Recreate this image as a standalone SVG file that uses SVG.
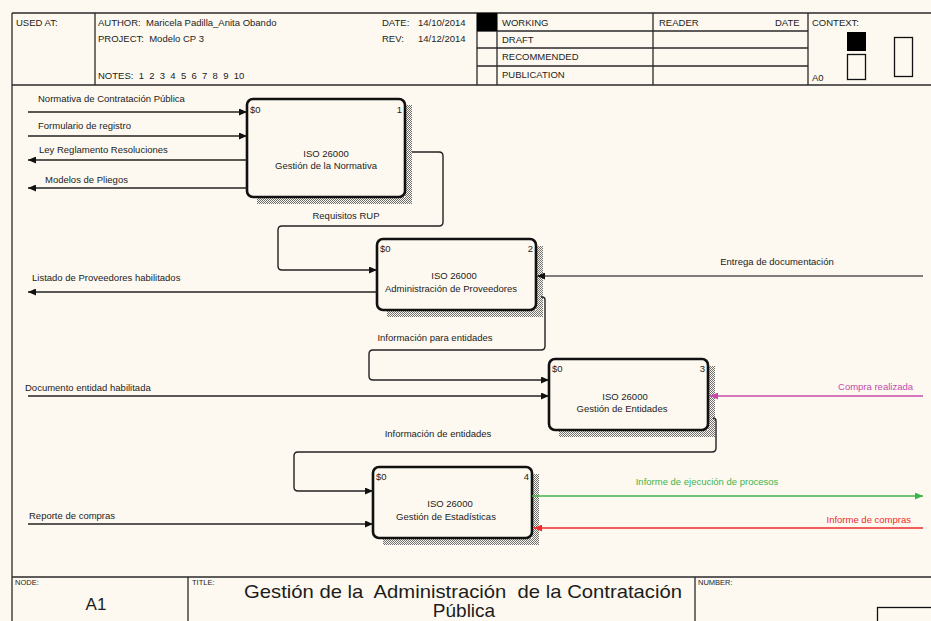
<svg xmlns="http://www.w3.org/2000/svg" width="931" height="621" viewBox="0 0 931 621">
  <defs>
    <style>
      .t { font-family: "Liberation Sans", Arial, sans-serif; font-size: 9.5px; fill: #1c1c1c; white-space: pre; }
      .c { text-anchor: middle; }
      .e { text-anchor: end; }
      .frame { fill: none; stroke: #2a2a2a; stroke-width: 1.3; }
      .box { fill: #fdf9f0; stroke: #111; stroke-width: 2.6; }
      .conn { fill: none; stroke: #222; stroke-width: 1.4; }
      .small { font-size: 7.5px; }
      .big { font-size: 19px; }
    </style>
    <pattern id="hatch" patternUnits="userSpaceOnUse" width="2" height="2">
      <rect x="0" y="0" width="1" height="1" fill="#6e6e6e"/>
      <rect x="1" y="1" width="1" height="1" fill="#6e6e6e"/>
    </pattern>
    <marker id="ah" viewBox="0 0 8 7" refX="8" refY="3.5" markerWidth="8" markerHeight="7" markerUnits="userSpaceOnUse" orient="auto">
      <path d="M0,0 L8,3.5 L0,7 z" fill="#111"/>
    </marker>
    <marker id="ah-g" viewBox="0 0 8 7" refX="8" refY="3.5" markerWidth="8" markerHeight="7" markerUnits="userSpaceOnUse" orient="auto">
      <path d="M0,0 L8,3.5 L0,7 z" fill="#3fb34a"/>
    </marker>
    <marker id="ah-r" viewBox="0 0 8 7" refX="8" refY="3.5" markerWidth="8" markerHeight="7" markerUnits="userSpaceOnUse" orient="auto">
      <path d="M0,0 L8,3.5 L0,7 z" fill="#ee2a2a"/>
    </marker>
    <marker id="ah-m" viewBox="0 0 8 7" refX="8" refY="3.5" markerWidth="8" markerHeight="7" markerUnits="userSpaceOnUse" orient="auto">
      <path d="M0,0 L8,3.5 L0,7 z" fill="#c44aae"/>
    </marker>
  </defs>

  <rect x="0" y="0" width="931" height="621" fill="#fdf9f0"/>

  <!-- Sheet frame and header block -->
  <g id="header">
    <path class="frame" d="M12,13 H931 M12,13 V621 M12,85 H931"/>
    <path class="frame" d="M95,13 V85 M477,13 V85 M497,13 V85 M653,13 V85 M808,13 V85"/>
    <path class="frame" d="M477,31 H808 M477,48 H808 M477,66 H808"/>
    <rect x="477" y="13" width="20" height="18" fill="#000"/>
    <text class="t" x="16" y="26">USED AT:</text>
    <text class="t" x="98" y="26">AUTHOR:  Maricela Padilla_Anita Obando</text>
    <text class="t" x="98" y="42">PROJECT:  Modelo CP 3</text>
    <text class="t" x="98" y="79">NOTES:  1  2  3  4  5  6  7  8  9  10</text>
    <text class="t" x="382" y="26">DATE:</text>
    <text class="t" x="418" y="26">14/10/2014</text>
    <text class="t" x="382" y="42">REV:</text>
    <text class="t" x="418" y="42">14/12/2014</text>
    <text class="t" x="502" y="26">WORKING</text>
    <text class="t" x="502" y="43">DRAFT</text>
    <text class="t" x="502" y="60">RECOMMENDED</text>
    <text class="t" x="502" y="78">PUBLICATION</text>
    <text class="t" x="659" y="26">READER</text>
    <text class="t" x="775" y="26">DATE</text>
    <text class="t" x="812" y="26">CONTEXT:</text>
    <text class="t" x="812" y="81">A0</text>
    <rect x="847" y="32" width="19" height="19" fill="#000"/>
    <rect x="847.5" y="54.5" width="18" height="25" fill="none" stroke="#111" stroke-width="1.3"/>
    <rect x="894.5" y="37.5" width="18" height="39" fill="none" stroke="#111" stroke-width="1.3"/>
  </g>

  <!-- Activity boxes -->
  <g id="node-1">
    <path d="M405,105 h7 v99 h-155 v-7 h148 z" fill="url(#hatch)"/>
    <rect class="box" x="247" y="99" width="158" height="98" rx="6"/>
    <text class="t" x="250" y="113">$0</text>
    <text class="t e" x="402" y="113">1</text>
    <text class="t c" x="326" y="157">ISO 26000</text>
    <text class="t c" x="326" y="169">Gestión de la Normativa</text>
  </g>

  <g id="node-2">
    <path d="M536,246 h7 v71 h-156 v-7 h149 z" fill="url(#hatch)"/>
    <rect class="box" x="377" y="239" width="159" height="71" rx="6"/>
    <text class="t" x="380" y="252">$0</text>
    <text class="t e" x="533" y="252">2</text>
    <text class="t c" x="454" y="279">ISO 26000</text>
    <text class="t c" x="451" y="292">Administración de Proveedores</text>
  </g>

  <g id="node-3">
    <path d="M708,366 h7 v71 h-156 v-7 h149 z" fill="url(#hatch)"/>
    <rect class="box" x="549" y="359" width="159" height="71" rx="6"/>
    <text class="t" x="552" y="372">$0</text>
    <text class="t e" x="705" y="372">3</text>
    <text class="t c" x="625" y="400">ISO 26000</text>
    <text class="t c" x="622" y="412">Gestión de Entidades</text>
  </g>

  <g id="node-4">
    <path d="M532,474 h7 v71 h-156 v-7 h149 z" fill="url(#hatch)"/>
    <rect class="box" x="373" y="467" width="159" height="71" rx="6"/>
    <text class="t" x="376" y="480">$0</text>
    <text class="t e" x="529" y="480">4</text>
    <text class="t c" x="450" y="507">ISO 26000</text>
    <text class="t c" x="446" y="520">Gestión de Estadísticas</text>
  </g>

  <!-- Arrows between activities and the boundary -->
  <g id="connectors">
    <path class="conn" d="M28,112 H247" marker-end="url(#ah)"/>
    <path class="conn" d="M28,136 H247" marker-end="url(#ah)"/>
    <path class="conn" d="M247,160 H28" marker-end="url(#ah)"/>
    <path class="conn" d="M247,188 H28" marker-end="url(#ah)"/>
    <path class="conn" d="M412,152 H439 Q443,152 443,156 V222 Q443,226 439,226 H282 Q278,226 278,230 V266 Q278,270 282,270 H377" marker-end="url(#ah)"/>
    <path class="conn" d="M377,292 H28" marker-end="url(#ah)"/>
    <path class="conn" d="M923,276 H537" style="stroke:#555" marker-end="url(#ah)"/>
    <path class="conn" d="M541,297 H542 Q545,297 545,300 V346 Q545,350 541,350 H373 Q369,350 369,354 V376 Q369,380 373,380 H549" marker-end="url(#ah)"/>
    <path class="conn" d="M28,396 H549" marker-end="url(#ah)"/>
    <path class="conn" d="M923,396 H710" style="stroke:#c44aae" marker-end="url(#ah-m)"/>
    <path class="conn" d="M713,418 Q716,418 716,421 V448 Q716,452 712,452 H298 Q294,452 294,456 V487 Q294,491 298,491 H373" marker-end="url(#ah)"/>
    <path class="conn" d="M28,524 H373" marker-end="url(#ah)"/>
    <path class="conn" d="M532,496 H923" style="stroke:#3fb34a" marker-end="url(#ah-g)"/>
    <path class="conn" d="M923,528 H534" style="stroke:#ee2a2a" marker-end="url(#ah-r)"/>

    <text class="t" x="38" y="102">Normativa de Contratación Pública</text>
    <text class="t" x="38" y="129">Formulario de registro</text>
    <text class="t" x="39" y="153">Ley Reglamento Resoluciones</text>
    <text class="t" x="45" y="183">Modelos de Pliegos</text>
    <text class="t c" x="346" y="219">Requisitos RUP</text>
    <text class="t" x="32" y="281">Listado de Proveedores habilitados</text>
    <text class="t c" x="777" y="265">Entrega de documentación</text>
    <text class="t c" x="435" y="341">Información para entidades</text>
    <text class="t" x="25" y="391">Documento entidad habilitada</text>
    <text class="t e" x="913" y="390" style="fill:#c44aae">Compra realizada</text>
    <text class="t c" x="438" y="437">Información de entidades</text>
    <text class="t" x="29" y="519">Reporte de compras</text>
    <text class="t c" x="707" y="485" style="fill:#3fb34a">Informe de ejecución de procesos</text>
    <text class="t e" x="911" y="523" style="fill:#ee2a2a">Informe de compras</text>
  </g>

  <!-- Footer: node, title, number -->
  <g id="footer">
    <path class="frame" d="M12,577 H931 M188,577 V621 M695,577 V621"/>
    <text class="t small" x="15" y="585">NODE:</text>
    <text class="t small" x="192" y="585">TITLE:</text>
    <text class="t small" x="698" y="585">NUMBER:</text>
    <text class="t" x="96" y="610" style="font-size:17px" text-anchor="middle">A1</text>
    <text class="t big c" x="463" y="598" textLength="438" lengthAdjust="spacingAndGlyphs">Gestión de la  Administración  de la Contratación</text>
    <text class="t big c" x="464" y="617">Pública</text>
    <rect x="877.5" y="607.5" width="60" height="20" fill="none" stroke="#111" stroke-width="1.3"/>
  </g>
</svg>
